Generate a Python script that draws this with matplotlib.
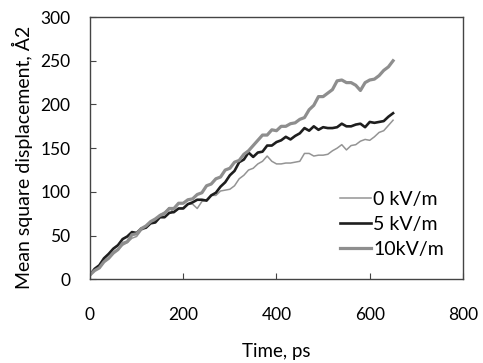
import matplotlib
matplotlib.use("Agg")
import matplotlib.pyplot as plt

time_ps = list(range(0, 651, 10))

msd_0kv = [5, 10, 13, 21, 24, 31, 34, 39, 42, 47, 49, 56, 59, 65, 67, 74, 77, 82, 76, 81,
           82, 86, 86, 81, 89, 91, 96, 96, 101, 102, 103, 107, 115, 119, 125, 127, 132, 135,
           141, 135, 132, 132, 133, 133, 134, 135, 144, 144, 141, 142, 142, 143, 147, 150,
           154, 148, 153, 154, 158, 160, 159, 163, 168, 170, 176, 182]

msd_5kv = [5, 12, 16, 24, 29, 35, 39, 46, 49, 54, 53, 58, 59, 64, 65, 71, 71, 76, 77, 81,
           81, 86, 88, 91, 91, 90, 96, 99, 106, 111, 119, 124, 134, 137, 145, 140, 145, 146,
           153, 153, 157, 159, 163, 160, 164, 167, 173, 170, 175, 171, 174, 173, 173, 174,
           178, 175, 175, 177, 178, 174, 180, 179, 180, 181, 186, 190]

msd_10kv = [5, 10, 13, 20, 24, 30, 34, 41, 43, 51, 52, 58, 61, 66, 69, 73, 75, 81, 81, 87,
            87, 91, 92, 97, 99, 107, 109, 115, 117, 125, 127, 134, 136, 143, 147, 153, 159,
            165, 165, 171, 170, 175, 175, 178, 179, 183, 185, 194, 199, 209, 209, 213, 217,
            227, 228, 225, 225, 222, 216, 225, 228, 229, 233, 239, 243, 250]

labels = ["0 kV/m", "5 kV/m", "10kV/m"]
x_ticks = [0, 200, 400, 600, 800]
y_ticks = [0, 50, 100, 150, 200, 250, 300]

plt.rcParams['font.family'] = ['Lato', 'DejaVu Sans']

fig = plt.figure(figsize=(4.83, 3.63), dpi=100)
ax = fig.add_axes([0.1863, 0.2306, 0.7723, 0.7224])

ax.plot(time_ps, msd_0kv, color="#949494", lw=1.1, label=labels[0])
ax.plot(time_ps, msd_5kv, color="#1e1e1e", lw=1.9, label=labels[1])
ax.plot(time_ps, msd_10kv, color="#8e8e8e", lw=2.3, label=labels[2])

ax.set_xlim(0, 800)
ax.set_ylim(0, 300)
ax.set_xticks(x_ticks)
ax.set_yticks(y_ticks)
ax.tick_params(axis="x", direction="in", length=4, pad=20, labelsize=12.5, color="#444")
ax.tick_params(axis="y", direction="in", length=4, pad=14, labelsize=12.5, color="#444")
for s in ax.spines.values():
    s.set_color("#444")
    s.set_linewidth(1.0)

ax.set_xlabel("Time, ps", fontsize=13.5, labelpad=14)
ax.set_ylabel("Mean square displacement, Å2", fontsize=14)
ax.yaxis.set_label_coords(-0.153, 0.464)

ax.legend(loc="lower right", bbox_to_anchor=(0.985, 0.03), frameon=False, fontsize=14,
          handlelength=1.6, handletextpad=0.1, labelspacing=0.4, borderpad=0.2)

fig.savefig("out.png", dpi=100)
